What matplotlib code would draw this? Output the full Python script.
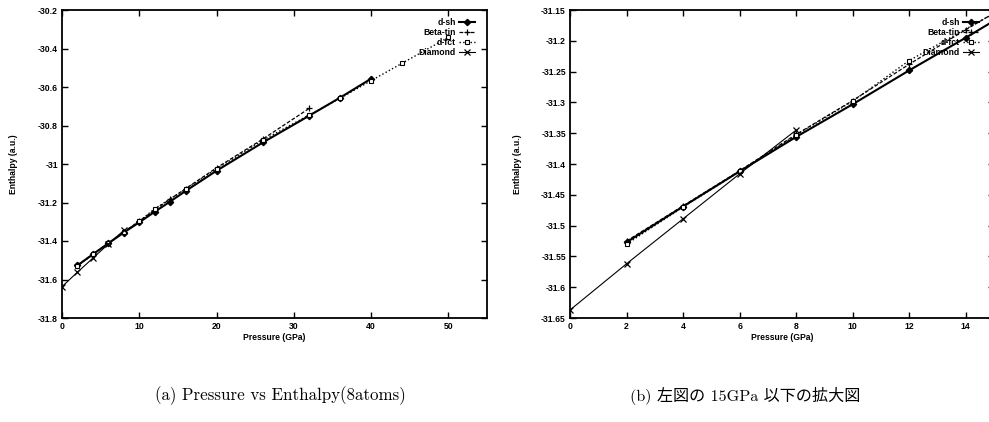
import matplotlib
matplotlib.use("Agg")
import matplotlib.pyplot as plt
from matplotlib.ticker import FuncFormatter, MultipleLocator

plt.rcParams['axes.unicode_minus'] = False
plt.rcParams['font.family'] = ['Liberation Sans', 'DejaVu Sans']

# ---- data (pressure in GPa, enthalpy in a.u.) ----
dsh_p = [2, 4, 6, 8, 10, 12, 14, 16, 20, 26, 32, 36, 40]
dsh_h = [-31.527, -31.469, -31.412, -31.356, -31.303, -31.248, -31.195,
         -31.140, -31.035, -30.888, -30.749, -30.655, -30.557]

beta_p = [2, 4, 6, 8, 10, 12, 14, 16, 20, 26, 32]
beta_h = [-31.525, -31.468, -31.411, -31.352, -31.297, -31.238, -31.182,
          -31.128, -31.020, -30.870, -30.711]

dfct_p = [2, 4, 6, 8, 10, 12, 16, 20, 26, 32, 36, 40, 44, 50]
dfct_h = [-31.530, -31.470, -31.412, -31.353, -31.298, -31.232, -31.130,
          -31.025, -30.876, -30.745, -30.658, -30.567, -30.477, -30.342]

dia_p = [0, 2, 4, 6, 8]
dia_h = [-31.637, -31.562, -31.489, -31.416, -31.345]

labels = ['d-sh', 'Beta-tin', 'd-fct', 'Diamond']
caption_a = '(a) Pressure vs Enthalpy(8atoms)'
caption_b = '(b) 左図の 15GPa 以下の拡大図'

fig = plt.figure(figsize=(9.89, 4.22), dpi=100)

W, H = 989, 422
def pos(l, r, t, b):
    return [l / W, (H - b) / H, (r - l) / W, (b - t) / H]

axA = fig.add_axes(pos(62, 487, 10, 318))
axB = fig.add_axes(pos(570, 994, 10, 318))

fs = 6.2
def style(ax):
    for s in ax.spines.values():
        s.set_linewidth(1.3)
    ax.tick_params(direction='in', top=True, right=True, length=4, width=1.0,
                   pad=3, labelsize=fs)
    for t in ax.get_xticklabels() + ax.get_yticklabels():
        t.set_fontweight('bold')
    ax.yaxis.set_major_formatter(FuncFormatter(lambda v, p: '%g' % round(v, 4)))
    ax.xaxis.set_major_formatter(FuncFormatter(lambda v, p: '%g' % round(v, 4)))
    ax.set_xlabel('Pressure (GPa)', fontsize=fs, fontweight='bold', labelpad=1)
    ax.set_ylabel('Enthalpy (a.u.)', fontsize=fs, fontweight='bold', labelpad=14)

def draw(ax):
    ax.plot(dsh_p, dsh_h, '-', color='black', lw=1.5, marker='D', ms=3.2,
            mfc='black', label=labels[0])
    ax.plot(beta_p, beta_h, '--', color='black', lw=0.9, marker='+', ms=5,
            mew=0.9, dashes=(3, 1.5), label=labels[1])
    ax.plot(dfct_p, dfct_h, ':', color='black', lw=1.0, marker='s', ms=3.5,
            mfc='white', mew=0.8, label=labels[2])
    ax.plot(dia_p, dia_h, '-', color='black', lw=0.8, marker='x', ms=4.5,
            mew=0.9, label=labels[3])

draw(axA)
axA.set_xlim(0, 55)
axA.set_ylim(-31.8, -30.2)
axA.xaxis.set_major_locator(MultipleLocator(10))
axA.yaxis.set_major_locator(MultipleLocator(0.2))
style(axA)

draw(axB)
axB.set_xlim(0, 15)
axB.set_ylim(-31.65, -31.15)
axB.xaxis.set_major_locator(MultipleLocator(2))
axB.yaxis.set_major_locator(MultipleLocator(0.05))
style(axB)

for ax, anchor in ((axA, (0.985, 0.995)), (axB, (0.978, 0.995))):
    leg = ax.legend(loc='upper right', bbox_to_anchor=anchor, frameon=False,
                    markerfirst=False, handlelength=1.8, handletextpad=0.4,
                    labelspacing=0.15, borderpad=0.2,
                    prop={'size': fs, 'weight': 'bold'})

fig.text(280 / W, 1 - 396 / H, caption_a, ha='center', va='center',
         fontsize=12.2, family=['cmr10', 'Noto Sans CJK JP'])
fig.text(745 / W, 1 - 396 / H, caption_b, ha='center', va='center',
         fontsize=11.6, family=['cmr10', 'Noto Sans CJK JP'])

fig.savefig('out.png', dpi=100)
